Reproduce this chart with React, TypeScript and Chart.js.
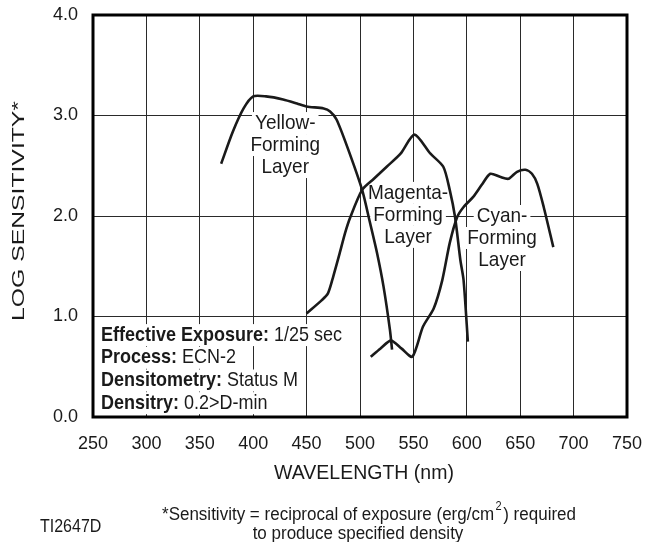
import React, { useEffect, useRef } from "react";
import { Chart, registerables } from "chart.js";

Chart.register(...registerables);

// ---- data ----
const xTickValues = [250, 300, 350, 400, 450, 500, 550, 600, 650, 700, 750];
const yTickValues = [0, 1, 2, 3, 4];

const yellowNm = [370, 381, 391, 400, 412, 428, 441, 450, 466, 472, 478, 488, 502, 509, 516, 522, 528, 530];
const yellowLog = [2.52, 2.84, 3.07, 3.19, 3.19, 3.16, 3.12, 3.09, 3.07, 3.04, 2.96, 2.69, 2.26, 1.95, 1.63, 1.3, 0.87, 0.67];

const magentaNm = [450, 464, 470, 475, 481, 486, 491, 502, 513, 525, 538, 551, 566, 578, 584, 589, 594, 597, 601];
const magentaLog = [1.03, 1.16, 1.23, 1.4, 1.63, 1.83, 1.99, 2.26, 2.37, 2.49, 2.62, 2.81, 2.62, 2.49, 2.26, 1.99, 1.56, 1.36, 0.75];

const cyanNm = [510, 519, 529, 539, 549, 559, 569, 577, 584, 591, 597, 606, 614, 622, 631, 639, 647, 655, 661, 666, 672, 681];
const cyanLog = [0.6, 0.68, 0.76, 0.68, 0.6, 0.9, 1.08, 1.36, 1.73, 1.99, 2.09, 2.19, 2.31, 2.42, 2.39, 2.37, 2.44, 2.46, 2.42, 2.32, 2.09, 1.69];

const yellowLabel = ["Yellow-", "Forming", "Layer"];
const magentaLabel = ["Magenta-", "Forming", "Layer"];
const cyanLabel = ["Cyan-", "Forming", "Layer"];

const infoBold = ["Effective Exposure:", "Process:", "Densitometry:", "Densitry:"];
const infoValue = [" 1/25 sec", " ECN-2", " Status M", " 0.2>D-min"];

const xTitle = "WAVELENGTH (nm)";
const yTitle = "LOG SENSITIVITY*";
const footA = "*Sensitivity = reciprocal of exposure (erg/cm";
const footSup = "2";
const footB = ") required";
const footLine2 = "to produce specified density";
const figId = "TI2647D";

const FONT = "'Liberation Sans', Arial, Helvetica, sans-serif";
const INK = "#1a1a1a";

const toXY = (xs: number[], ys: number[]) => xs.map((x, i) => ({ x, y: ys[i] }));

function stretchedText(ctx: CanvasRenderingContext2D, text: string, x: number, y: number, sy: number) {
  ctx.save();
  ctx.translate(x, y);
  ctx.scale(1, sy);
  ctx.fillText(text, 0, 0);
  ctx.restore();
}

const SY = 1.1;
const LABEL_FONT = `19px ${FONT}`;
const LINE_GAP = 22;
const INFO_SIZE = 18;

// label anchor in data coords: [nm, log of first line]
const labelDefs: { lines: string[]; nm: number; log: number }[] = [
  { lines: yellowLabel, nm: 430, log: 2.925 },
  { lines: magentaLabel, nm: 545, log: 2.23 },
  { lines: cyanLabel, nm: 633, log: 2.0 },
];

const overlay = {
  id: "overlay",
  beforeDatasetsDraw(chart: any) {
    const { ctx } = chart;
    const xs = chart.scales.x;
    const ys = chart.scales.y;
    ctx.save();
    ctx.fillStyle = "#fff";
    ctx.font = LABEL_FONT;
    for (const d of labelDefs) {
      const cx = xs.getPixelForValue(d.nm);
      const cy0 = ys.getPixelForValue(d.log);
      d.lines.forEach((t, i) => {
        const w = ctx.measureText(t).width;
        ctx.fillRect(cx - w / 2 - 3, cy0 + i * LINE_GAP - 11, w + 6, 22);
      });
    }
    // info box rows
    const left = chart.chartArea.left + 8;
    infoBold.forEach((b, i) => {
      ctx.font = `bold ${INFO_SIZE}px ${FONT}`;
      const wb = ctx.measureText(b).width;
      ctx.font = `${INFO_SIZE}px ${FONT}`;
      const wv = ctx.measureText(infoValue[i]).width;
      const cy = ys.getPixelForValue(0.815) + i * 22.7;
      ctx.fillRect(left - 4, cy - 11, wb + wv + 8, 22);
    });
    ctx.restore();
  },
  afterDatasetsDraw(chart: any) {
    const { ctx, chartArea } = chart;
    const xs = chart.scales.x;
    const ys = chart.scales.y;
    ctx.save();
    ctx.fillStyle = INK;
    ctx.textBaseline = "middle";
    ctx.textAlign = "center";
    ctx.font = LABEL_FONT;
    for (const d of labelDefs) {
      const cx = xs.getPixelForValue(d.nm);
      const cy0 = ys.getPixelForValue(d.log);
      d.lines.forEach((t, i) => stretchedText(ctx, t, cx, cy0 + i * LINE_GAP, SY));
    }
    ctx.textAlign = "left";
    const left = chartArea.left + 8;
    infoBold.forEach((b, i) => {
      const cy = ys.getPixelForValue(0.815) + i * 22.7;
      ctx.font = `bold ${INFO_SIZE}px ${FONT}`;
      const wb = ctx.measureText(b).width;
      stretchedText(ctx, b, left, cy, SY);
      ctx.font = `${INFO_SIZE}px ${FONT}`;
      stretchedText(ctx, infoValue[i], left + wb, cy, SY);
    });
    // plot border
    ctx.strokeStyle = "#000";
    ctx.lineWidth = 3;
    ctx.strokeRect(chartArea.left, chartArea.top, chartArea.right - chartArea.left, chartArea.bottom - chartArea.top);
    ctx.restore();
  },
  afterDraw(chart: any) {
    const { ctx, chartArea } = chart;
    ctx.save();
    ctx.fillStyle = INK;
    ctx.textBaseline = "middle";
    // x title
    ctx.textAlign = "center";
    ctx.font = `19.5px ${FONT}`;
    stretchedText(ctx, xTitle, (chartArea.left + chartArea.right) / 2 + 4, 473, 1.05);
    // y title (rotated, stretched along its length)
    ctx.font = `17px ${FONT}`;
    const w = ctx.measureText(yTitle).width;
    ctx.save();
    ctx.translate(19, 211);
    ctx.rotate(-Math.PI / 2);
    ctx.scale(220 / w, 1);
    ctx.fillText(yTitle, 0, 0);
    ctx.restore();
    // footnote
    ctx.font = `17px ${FONT}`;
    ctx.textAlign = "left";
    const wA = ctx.measureText(footA).width;
    ctx.font = `11px ${FONT}`;
    const wS = ctx.measureText(footSup).width;
    ctx.font = `17px ${FONT}`;
    const wB = ctx.measureText(footB).width;
    const total = wA + wS + 3 + wB;
    const x0 = 369 - total / 2;
    stretchedText(ctx, footA, x0, 515, SY);
    ctx.font = `11px ${FONT}`;
    stretchedText(ctx, footSup, x0 + wA + 1.5, 507, SY);
    ctx.font = `17px ${FONT}`;
    stretchedText(ctx, footB, x0 + wA + wS + 3, 515, SY);
    ctx.textAlign = "center";
    stretchedText(ctx, footLine2, 358, 534, SY);
    ctx.textAlign = "left";
    ctx.font = `16px ${FONT}`;
    stretchedText(ctx, figId, 40, 527, SY);
    ctx.restore();
  },
};

export default function App() {
  const ref = useRef<HTMLCanvasElement | null>(null);
  useEffect(() => {
    if (!ref.current) return;
    const lineStyle = {
      showLine: true,
      borderColor: INK,
      backgroundColor: INK,
      borderWidth: 2.6,
      pointRadius: 0,
      tension: 0.25,
      fill: false,
    };
    const chart = new Chart(ref.current, {
      type: "scatter",
      data: {
        datasets: [
          { label: "Yellow-Forming Layer", data: toXY(yellowNm, yellowLog), ...lineStyle },
          { label: "Magenta-Forming Layer", data: toXY(magentaNm, magentaLog), ...lineStyle },
          { label: "Cyan-Forming Layer", data: toXY(cyanNm, cyanLog), ...lineStyle },
        ],
      },
      options: {
        animation: false,
        responsive: false,
        devicePixelRatio: 1,
        layout: { padding: { left: 0, top: 15, right: 31, bottom: 0 } },
        plugins: { legend: { display: false }, tooltip: { enabled: false } },
        scales: {
          x: {
            type: "linear",
            min: 250,
            max: 750,
            afterBuildTicks: (s: any) => {
              s.ticks = xTickValues.map((v) => ({ value: v }));
            },
            afterFit: (s: any) => {
              s.height = 125;
              s.paddingLeft = 0;
              s.paddingRight = 0;
              s.paddingTop = 0;
              s.paddingBottom = 0;
            },
            ticks: {
              font: { family: FONT, size: 18 },
              color: INK,
              padding: 16,
              maxRotation: 0,
              autoSkip: false,
            },
            grid: { color: "#2a2a2a", lineWidth: 1, drawTicks: false },
            border: { display: false },
          },
          y: {
            type: "linear",
            min: 0,
            max: 4,
            afterBuildTicks: (s: any) => {
              s.ticks = yTickValues.map((v) => ({ value: v }));
            },
            afterFit: (s: any) => {
              s.width = 93;
              s.paddingLeft = 0;
              s.paddingRight = 0;
              s.paddingTop = 0;
              s.paddingBottom = 0;
            },
            ticks: {
              font: { family: FONT, size: 18 },
              color: INK,
              padding: 15,
              callback: (v: any) => Number(v).toFixed(1),
            },
            grid: { color: "#2a2a2a", lineWidth: 1, drawTicks: false },
            border: { display: false },
          },
        },
      },
      plugins: [overlay],
    } as any);
    return () => chart.destroy();
  }, []);
  return (
    <div style={{ position: "fixed", left: 0, top: 0, width: 658, height: 542, background: "#fff" }}>
      <canvas ref={ref} width={658} height={542} />
    </div>
  );
}
